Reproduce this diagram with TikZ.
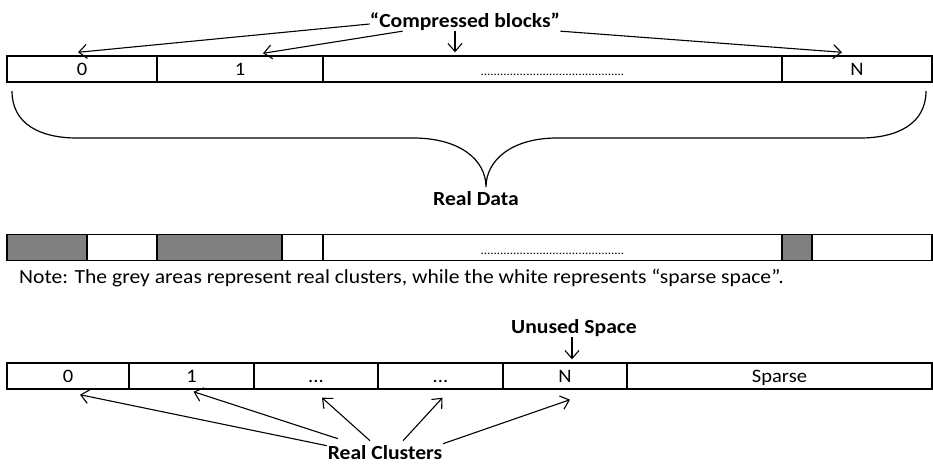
\documentclass[tikz,border=0pt]{standalone}
\usepackage{fontspec}
\setmainfont{Carlito}[FakeStretch=1.08]
\usetikzlibrary{arrows.meta}

\definecolor{clustergrey}{HTML}{808080}

\tikzset{
  cell/.style={draw, line width=1.4pt, minimum height=26, inner sep=0pt,
    text height=13, text depth=0, font=\fontsize{19}{23}\selectfont},
  full/.style={cell, fill=clustergrey},
  dotrow/.style={cell, font=\fontsize{12}{15}\selectfont},
  title/.style={inner sep=0pt, font=\fontsize{20}{23}\selectfont\bfseries},
  arr/.style={-{Straight Barb[length=8pt,width=14pt]}, line width=1.1pt}
}

\begin{document}
\begin{tikzpicture}[x=1pt,y=-1pt]

        \useasboundingbox (0,0) rectangle (933,464);

        % compressed blocks
        \node[cell, minimum width=150]   (t0) at (82,69)    {0};
        \node[cell, minimum width=166]   (t1) at (240,69)   {1};
        \node[dotrow, minimum width=459] (t2) at (552.5,69) {............................................};
        \node[cell, minimum width=150]   (tN) at (857,69)   {N};

        \node[title] (cb) at (465,22) {“Compressed blocks”};

        \draw[arr] ([yshift=-2]cb.west) -- ([xshift=-4,yshift=3]t0.north);
        \draw[arr] ([xshift=33]cb.south west) -- ([xshift=23,yshift=2]t1.north);
        \draw[arr] ([xshift=-10]cb.south) -- ([xshift=-97.5,yshift=3]t2.north);
        \draw[arr] (cb.south east) -- ([xshift=-15,yshift=3]tN.north);

        % brace
        \draw[line width=1.2pt] (12,91) .. controls (12,124) and (40,138) .. (77,138)
          -- (413,138) .. controls (460,138) and (486,160) .. (486,187)
          .. controls (486,160) and (512,138) .. (557,138)
          -- (860,138) .. controls (897,138) and (926,124) .. (926,91);
        \node[title] (rd) at (476,199) {Real Data};

        % clusters
        \node[full, minimum width=80]    (m0) at (47,247.5)    {};
        \node[cell, minimum width=70]    (m1) at (122,247.5)   {};
        \node[full, minimum width=125]   (m2) at (219.5,247.5) {};
        \node[cell, minimum width=41]    (m3) at (302.5,247.5) {};
        \node[dotrow, minimum width=459] (m4) at (552.5,247.5) {............................................};
        \node[full, minimum width=30]    (m5) at (797,247.5)   {};
        \node[cell, minimum width=120]   (m6) at (872,247.5)   {};

        \node[anchor=west, inner sep=0pt, font=\fontsize{20}{23}\selectfont] (note) at (19,278)
          {Note: The grey areas represent real clusters, while the white represents “sparse space”.};

        % real clusters
        \node[cell, minimum width=122] (c0) at (68,376)    {0};
        \node[cell, minimum width=125] (c1) at (191.5,376) {1};
        \node[cell, minimum width=124] (c2) at (316,376)   {...};
        \node[cell, minimum width=125] (c3) at (440.5,376) {...};
        \node[cell, minimum width=124] (c4) at (565,376)   {N};
        \node[cell, minimum width=305] (c5) at (779.5,376) {Sparse};

        \node[title] (us) at (574,328) {Unused Space};
        \draw[arr] ([xshift=-2]us.south) -- ([xshift=7,yshift=3]c4.north);

        \node[title] (rc) at (385,453) {Real Clusters};
        \draw[arr] ([xshift=-58]rc.north) -- ([xshift=12,yshift=-5]c0.south);
        \draw[arr] ([xshift=-47,yshift=7]rc.north) -- ([xshift=2,yshift=-2]c1.south);
        \draw[arr] ([xshift=-15,yshift=5]rc.north) -- ([xshift=6,yshift=-8]c2.south);
        \draw[arr] ([xshift=18,yshift=5]rc.north) -- ([xshift=2,yshift=-8]c3.south);
        \draw[arr] ([xshift=58,yshift=2]rc.north) -- ([xshift=5,yshift=-10]c4.south);

      \end{tikzpicture}
\end{document}
